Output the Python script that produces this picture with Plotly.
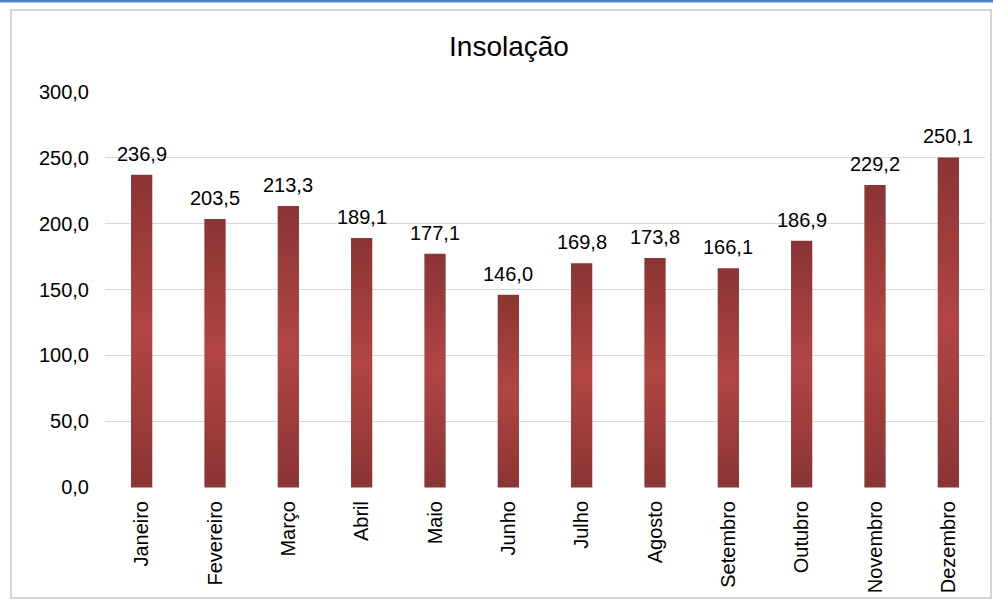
import plotly.graph_objects as go

months = ["Janeiro", "Fevereiro", "Março", "Abril", "Maio", "Junho",
          "Julho", "Agosto", "Setembro", "Outubro", "Novembro", "Dezembro"]
insolacao = [236.9, 203.5, 213.3, 189.1, 177.1, 146.0,
             169.8, 173.8, 166.1, 186.9, 229.2, 250.1]
y_ticks = [0, 50, 100, 150, 200, 250, 300]

DARK = "#8A3434"
LIGHT = "#B14543"
BAR_HALF = 0.145

W, H = 993, 601
L, R, T, B = 105, 8, 91, 113


def px(x):
    return (x - L) / (W - L - R)


def py(y):
    return (H - B - y) / (H - T - B)


fig = go.Figure()

# one filled polygon per bar so each gets its own vertical gradient
for i, v in enumerate(insolacao):
    fig.add_trace(go.Scatter(
        x=[i - BAR_HALF, i + BAR_HALF, i + BAR_HALF, i - BAR_HALF, i - BAR_HALF],
        y=[0, 0, v, v, 0], mode="lines", fill="toself", line=dict(width=0),
        fillgradient=dict(type="vertical",
                          colorscale=[[0, DARK], [0.5, LIGHT], [1, DARK]]),
        hoverinfo="skip", showlegend=False))

for i, v in enumerate(insolacao):
    fig.add_annotation(x=i, y=v, text=f"{v:.1f}".replace(".", ","),
                       showarrow=False, yanchor="bottom", yshift=8,
                       font=dict(size=20, color="#000000"))

fig.update_layout(
    width=W, height=H,
    margin=dict(l=L, r=R, t=T, b=B),
    paper_bgcolor="white", plot_bgcolor="white",
    font=dict(family="Liberation Sans, Arial, sans-serif", size=20, color="#000000"),
    title=dict(text="Insolação", x=px(509), xanchor="center", xref="paper",
               y=1 - 46 / H, yanchor="middle", font=dict(size=28)),
    separators=",.",
    shapes=[
        dict(type="rect", xref="paper", yref="paper", x0=px(0), x1=px(W),
             y0=py(0), y1=py(2.5), fillcolor="#4F81BD", line=dict(width=0),
             layer="above"),
        dict(type="rect", xref="paper", yref="paper", x0=px(11), x1=px(991),
             y0=py(10), y1=py(598), fillcolor="rgba(0,0,0,0)",
             line=dict(color="#D4D4D4", width=2), layer="below"),
    ],
)
fig.update_xaxes(range=[-0.5, len(months) - 0.5], tickvals=list(range(len(months))),
                 ticktext=months, tickangle=-90, showgrid=False, zeroline=False,
                 showline=False, ticks="", ticklabelstandoff=8, fixedrange=True)
fig.update_yaxes(range=[-0.4, 300.4], tickvals=y_ticks, tickformat=".1f",
                 showgrid=True, gridcolor="#D9D9D9", gridwidth=1.3,
                 zeroline=False, showline=False, ticks="", ticklabelstandoff=15,
                 fixedrange=True)

fig.write_html("out.html", config={"displayModeBar": False},
               post_script="document.body.style.margin='0';")
